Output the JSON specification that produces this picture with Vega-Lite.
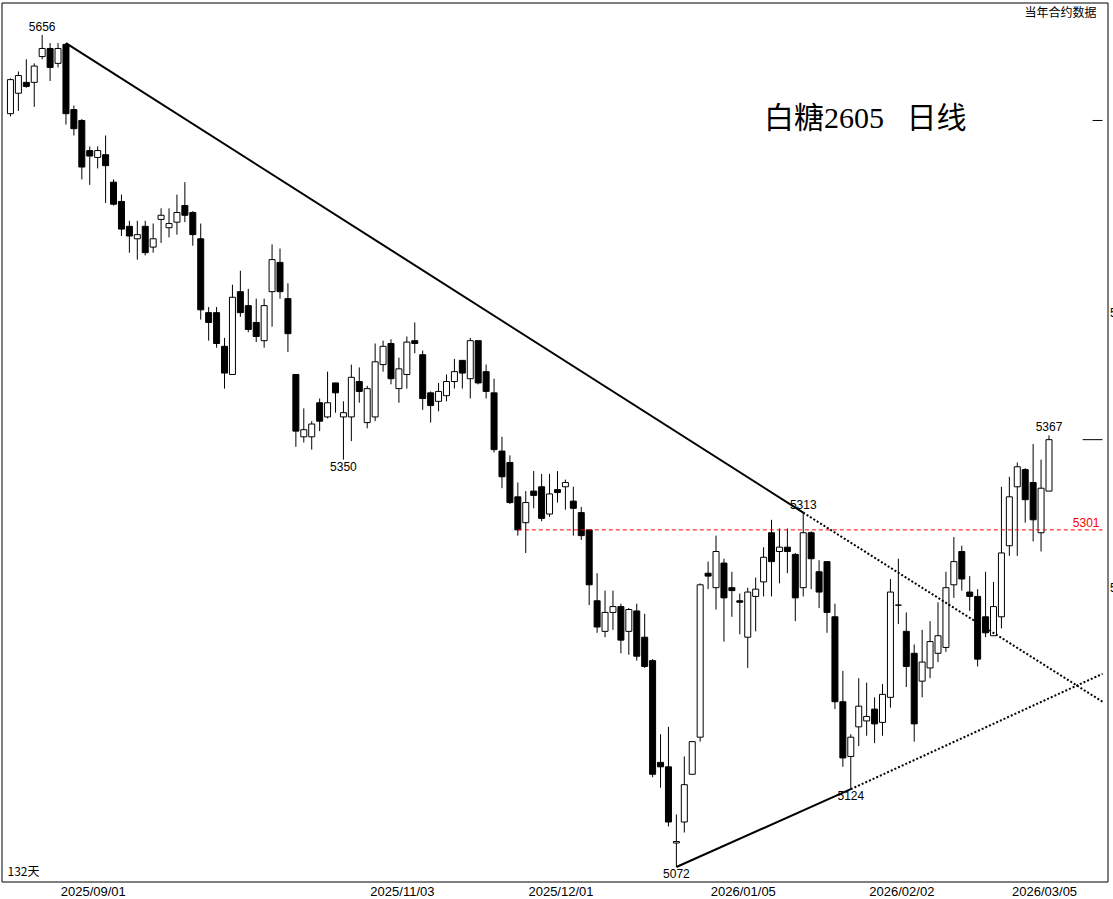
{
"$schema": "https://vega.github.io/schema/vega-lite/v6.json",
"width": 1106,
"height": 879,
"autosize": {"type": "none"},
"padding": {"left": 1.5, "top": 2.5, "right": 5.5, "bottom": 17.5},
"background": "#ffffff",
"config": {
"view": {"stroke": "#000000", "strokeWidth": 1},
"font": "Liberation Sans",
"axis": {"grid": false, "ticks": false, "domain": false, "labelColor": "#000000", "labelFont": "Liberation Sans", "labelFlush": false, "labelOverlap": false},
"axisX": {"labelFontSize": 13, "labelPadding": 4, "labelOffset": 3},
"axisY": {"labelFontSize": 12, "labelPadding": 2}
},
"datasets": {
"candles": [
{"day":0,"open":5598,"high":5624,"low":5596,"close":5623},
{"day":1,"open":5613,"high":5629,"low":5600,"close":5626},
{"day":2,"open":5621,"high":5638,"low":5617,"close":5618},
{"day":3,"open":5621,"high":5635,"low":5603,"close":5633},
{"day":4,"open":5640,"high":5656,"low":5638,"close":5646},
{"day":5,"open":5646,"high":5650,"low":5622,"close":5632},
{"day":6,"open":5635,"high":5650,"low":5632,"close":5646},
{"day":7,"open":5649,"high":5650,"low":5590,"close":5598},
{"day":8,"open":5601,"high":5604,"low":5582,"close":5587},
{"day":9,"open":5593,"high":5594,"low":5550,"close":5559},
{"day":10,"open":5571,"high":5574,"low":5546,"close":5567},
{"day":11,"open":5566,"high":5574,"low":5558,"close":5571},
{"day":12,"open":5568,"high":5582,"low":5533,"close":5560},
{"day":13,"open":5548,"high":5550,"low":5531,"close":5532},
{"day":14,"open":5534,"high":5539,"low":5509,"close":5514},
{"day":15,"open":5516,"high":5520,"low":5497,"close":5509},
{"day":16,"open":5507,"high":5520,"low":5492,"close":5510},
{"day":17,"open":5516,"high":5520,"low":5495,"close":5497},
{"day":18,"open":5501,"high":5518,"low":5497,"close":5507},
{"day":19,"open":5521,"high":5529,"low":5504,"close":5524},
{"day":20,"open":5515,"high":5529,"low":5508,"close":5518},
{"day":21,"open":5519,"high":5539,"low":5510,"close":5526},
{"day":22,"open":5531,"high":5548,"low":5519,"close":5524},
{"day":23,"open":5526,"high":5527,"low":5502,"close":5510},
{"day":24,"open":5507,"high":5518,"low":5449,"close":5456},
{"day":25,"open":5454,"high":5458,"low":5434,"close":5447},
{"day":26,"open":5454,"high":5458,"low":5429,"close":5432},
{"day":27,"open":5430,"high":5436,"low":5400,"close":5411},
{"day":28,"open":5410,"high":5474,"low":5410,"close":5465},
{"day":29,"open":5469,"high":5484,"low":5451,"close":5454},
{"day":30,"open":5459,"high":5471,"low":5440,"close":5442},
{"day":31,"open":5447,"high":5464,"low":5433,"close":5437},
{"day":32,"open":5434,"high":5464,"low":5429,"close":5459},
{"day":33,"open":5469,"high":5503,"low":5444,"close":5492},
{"day":34,"open":5490,"high":5500,"low":5464,"close":5469},
{"day":35,"open":5464,"high":5475,"low":5426,"close":5439},
{"day":36,"open":5410,"high":5410,"low":5359,"close":5370},
{"day":37,"open":5366,"high":5386,"low":5362,"close":5371},
{"day":38,"open":5366,"high":5377,"low":5357,"close":5375},
{"day":39,"open":5390,"high":5393,"low":5370,"close":5377},
{"day":40,"open":5380,"high":5412,"low":5379,"close":5390},
{"day":41,"open":5404,"high":5404,"low":5383,"close":5397},
{"day":42,"open":5380,"high":5391,"low":5350,"close":5383},
{"day":43,"open":5380,"high":5417,"low":5363,"close":5408},
{"day":44,"open":5405,"high":5415,"low":5390,"close":5398},
{"day":45,"open":5376,"high":5402,"low":5372,"close":5400},
{"day":46,"open":5380,"high":5432,"low":5377,"close":5419},
{"day":47,"open":5417,"high":5434,"low":5412,"close":5430},
{"day":48,"open":5432,"high":5435,"low":5403,"close":5407},
{"day":49,"open":5400,"high":5422,"low":5390,"close":5414},
{"day":50,"open":5410,"high":5437,"low":5400,"close":5433},
{"day":51,"open":5434,"high":5447,"low":5425,"close":5432},
{"day":52,"open":5424,"high":5427,"low":5385,"close":5393},
{"day":53,"open":5397,"high":5398,"low":5376,"close":5388},
{"day":54,"open":5391,"high":5404,"low":5384,"close":5398},
{"day":55,"open":5395,"high":5410,"low":5391,"close":5405},
{"day":56,"open":5405,"high":5421,"low":5400,"close":5412},
{"day":57,"open":5420,"high":5420,"low":5400,"close":5411},
{"day":58,"open":5407,"high":5436,"low":5393,"close":5434},
{"day":59,"open":5434,"high":5434,"low":5403,"close":5404},
{"day":60,"open":5412,"high":5417,"low":5393,"close":5398},
{"day":61,"open":5397,"high":5407,"low":5355,"close":5357},
{"day":62,"open":5356,"high":5366,"low":5330,"close":5338},
{"day":63,"open":5348,"high":5353,"low":5319,"close":5320},
{"day":64,"open":5324,"high":5334,"low":5297,"close":5301},
{"day":65,"open":5306,"high":5328,"low":5285,"close":5320},
{"day":66,"open":5328,"high":5342,"low":5316,"close":5325},
{"day":67,"open":5331,"high":5340,"low":5307,"close":5309},
{"day":68,"open":5312,"high":5340,"low":5310,"close":5326},
{"day":69,"open":5329,"high":5342,"low":5320,"close":5327},
{"day":70,"open":5331,"high":5336,"low":5315,"close":5334},
{"day":71,"open":5321,"high":5331,"low":5297,"close":5316},
{"day":72,"open":5313,"high":5317,"low":5294,"close":5297},
{"day":73,"open":5301,"high":5301,"low":5249,"close":5263},
{"day":74,"open":5252,"high":5271,"low":5230,"close":5234},
{"day":75,"open":5231,"high":5259,"low":5227,"close":5244},
{"day":76,"open":5244,"high":5259,"low":5232,"close":5248},
{"day":77,"open":5248,"high":5250,"low":5216,"close":5225},
{"day":78,"open":5231,"high":5247,"low":5215,"close":5246},
{"day":79,"open":5245,"high":5250,"low":5211,"close":5214},
{"day":80,"open":5227,"high":5243,"low":5206,"close":5207},
{"day":81,"open":5211,"high":5212,"low":5132,"close":5134},
{"day":82,"open":5142,"high":5161,"low":5125,"close":5139},
{"day":83,"open":5139,"high":5166,"low":5099,"close":5102},
{"day":84,"open":5088,"high":5107,"low":5072,"close":5089},
{"day":85,"open":5102,"high":5146,"low":5095,"close":5127},
{"day":86,"open":5134,"high":5156,"low":5134,"close":5156},
{"day":87,"open":5159,"high":5264,"low":5156,"close":5263},
{"day":88,"open":5271,"high":5279,"low":5260,"close":5269},
{"day":89,"open":5261,"high":5297,"low":5246,"close":5286},
{"day":90,"open":5278,"high":5281,"low":5224,"close":5254},
{"day":91,"open":5261,"high":5272,"low":5241,"close":5259},
{"day":92,"open":5252,"high":5257,"low":5229,"close":5251},
{"day":93,"open":5227,"high":5261,"low":5206,"close":5258},
{"day":94,"open":5255,"high":5268,"low":5231,"close":5260},
{"day":95,"open":5265,"high":5289,"low":5255,"close":5282},
{"day":96,"open":5299,"high":5308,"low":5255,"close":5279},
{"day":97,"open":5286,"high":5302,"low":5264,"close":5289},
{"day":98,"open":5289,"high":5302,"low":5271,"close":5286},
{"day":99,"open":5284,"high":5285,"low":5238,"close":5254},
{"day":100,"open":5261,"high":5313,"low":5255,"close":5299},
{"day":101,"open":5299,"high":5300,"low":5260,"close":5281},
{"day":102,"open":5272,"high":5280,"low":5247,"close":5258},
{"day":103,"open":5279,"high":5279,"low":5230,"close":5244},
{"day":104,"open":5241,"high":5250,"low":5178,"close":5183},
{"day":105,"open":5183,"high":5204,"low":5139,"close":5145},
{"day":106,"open":5146,"high":5161,"low":5124,"close":5159},
{"day":107,"open":5166,"high":5199,"low":5153,"close":5180},
{"day":108,"open":5170,"high":5196,"low":5160,"close":5173},
{"day":109,"open":5178,"high":5186,"low":5155,"close":5168},
{"day":110,"open":5169,"high":5195,"low":5160,"close":5188},
{"day":111,"open":5186,"high":5267,"low":5179,"close":5258},
{"day":112,"open":5249,"high":5281,"low":5236,"close":5249},
{"day":113,"open":5231,"high":5244,"low":5193,"close":5207},
{"day":114,"open":5216,"high":5222,"low":5156,"close":5168},
{"day":115,"open":5197,"high":5232,"low":5186,"close":5210},
{"day":116,"open":5206,"high":5238,"low":5199,"close":5224},
{"day":117,"open":5216,"high":5251,"low":5210,"close":5228},
{"day":118,"open":5220,"high":5272,"low":5217,"close":5261},
{"day":119,"open":5263,"high":5296,"low":5254,"close":5279},
{"day":120,"open":5286,"high":5290,"low":5259,"close":5267},
{"day":121,"open":5258,"high":5269,"low":5245,"close":5255},
{"day":122,"open":5255,"high":5260,"low":5207,"close":5212},
{"day":123,"open":5241,"high":5272,"low":5227,"close":5230},
{"day":124,"open":5228,"high":5265,"low":5228,"close":5248},
{"day":125,"open":5241,"high":5331,"low":5233,"close":5285},
{"day":126,"open":5290,"high":5338,"low":5283,"close":5324},
{"day":127,"open":5331,"high":5348,"low":5283,"close":5345},
{"day":128,"open":5343,"high":5344,"low":5306,"close":5322},
{"day":129,"open":5334,"high":5361,"low":5293,"close":5308},
{"day":130,"open":5299,"high":5350,"low":5286,"close":5330},
{"day":131,"open":5328,"high":5367,"low":5328,"close":5364}
],
"trend": [
{"line":"down","part":"drawn","day":7,"price":5650},
{"line":"down","part":"drawn","day":100,"price":5313},
{"line":"down","part":"projected","day":100,"price":5313},
{"line":"down","part":"projected","day":137.75,"price":5183},
{"line":"up","part":"drawn","day":84,"price":5072},
{"line":"up","part":"drawn","day":106,"price":5124},
{"line":"up","part":"projected","day":106,"price":5124},
{"line":"up","part":"projected","day":137.75,"price":5202}
],
"pivots": [
{"day":4,"price":5656,"side":"high"},
{"day":42,"price":5350,"side":"low"},
{"day":84,"price":5072,"side":"low"},
{"day":100,"price":5313,"side":"high"},
{"day":106,"price":5124,"side":"low"},
{"day":131,"price":5367,"side":"high"}
],
"level": [{"day":64,"price":5301}],
"marker": [{"price":5593}]
},
"layer": [
{
"data": {"name": "candles"},
"mark": {"type": "rule", "color": "#000000", "strokeWidth": 1, "clip": true},
"encoding": {
"x": {"field": "day", "type": "quantitative", "scale": {"domain": [-0.5, 137.75], "nice": false, "zero": false}, "axis": {"values": [10, 49, 69, 92, 112, 130], "labelExpr": "datum.value == 10 ? '2025/09/01' : datum.value == 49 ? '2025/11/03' : datum.value == 69 ? '2025/12/01' : datum.value == 92 ? '2026/01/05' : datum.value == 112 ? '2026/02/02' : '2026/03/05'", "title": null}},
"y": {"field": "low", "type": "quantitative", "scale": {"type": "log", "domain": [5062.4, 5680.1], "nice": false, "zero": false}, "axis": {"orient": "right", "values": [5454, 5261], "format": "d", "title": null}},
"y2": {"field": "high"}
}
},
{
"data": {"name": "candles"},
"mark": {"type": "bar", "width": 6, "stroke": "#000000", "strokeWidth": 1, "clip": true},
"encoding": {
"x": {"field": "day", "type": "quantitative", "scale": {"domain": [-0.5, 137.75], "nice": false, "zero": false}, "axis": {"values": [10, 49, 69, 92, 112, 130], "labelExpr": "datum.value == 10 ? '2025/09/01' : datum.value == 49 ? '2025/11/03' : datum.value == 69 ? '2025/12/01' : datum.value == 92 ? '2026/01/05' : datum.value == 112 ? '2026/02/02' : '2026/03/05'", "title": null}},
"y": {"field": "open", "type": "quantitative", "scale": {"type": "log", "domain": [5062.4, 5680.1], "nice": false, "zero": false}, "axis": {"orient": "right", "values": [5454, 5261], "format": "d", "title": null}},
"y2": {"field": "close"},
"fill": {"condition": {"test": "datum.close >= datum.open", "value": "#ffffff"}, "value": "#000000"}
}
},
{
"data": {"name": "trend"},
"transform": [{"filter": "datum.part == 'drawn'"}],
"mark": {"type": "line", "color": "#000000", "strokeWidth": 2, "clip": true},
"encoding": {
"x": {"field": "day", "type": "quantitative", "scale": {"domain": [-0.5, 137.75], "nice": false, "zero": false}, "axis": {"values": [10, 49, 69, 92, 112, 130], "labelExpr": "datum.value == 10 ? '2025/09/01' : datum.value == 49 ? '2025/11/03' : datum.value == 69 ? '2025/12/01' : datum.value == 92 ? '2026/01/05' : datum.value == 112 ? '2026/02/02' : '2026/03/05'", "title": null}},
"y": {"field": "price", "type": "quantitative", "scale": {"type": "log", "domain": [5062.4, 5680.1], "nice": false, "zero": false}, "axis": {"orient": "right", "values": [5454, 5261], "format": "d", "title": null}},
"detail": {"field": "line"}
}
},
{
"data": {"name": "trend"},
"transform": [{"filter": "datum.part == 'projected'"}],
"mark": {"type": "line", "color": "#000000", "strokeWidth": 2, "strokeDash": [2, 2], "clip": true},
"encoding": {
"x": {"field": "day", "type": "quantitative", "scale": {"domain": [-0.5, 137.75], "nice": false, "zero": false}, "axis": {"values": [10, 49, 69, 92, 112, 130], "labelExpr": "datum.value == 10 ? '2025/09/01' : datum.value == 49 ? '2025/11/03' : datum.value == 69 ? '2025/12/01' : datum.value == 92 ? '2026/01/05' : datum.value == 112 ? '2026/02/02' : '2026/03/05'", "title": null}},
"y": {"field": "price", "type": "quantitative", "scale": {"type": "log", "domain": [5062.4, 5680.1], "nice": false, "zero": false}, "axis": {"orient": "right", "values": [5454, 5261], "format": "d", "title": null}},
"detail": {"field": "line"}
}
},
{
"data": {"name": "level"},
"mark": {"type": "rule", "color": "#ff0000", "strokeWidth": 1, "strokeDash": [4, 3], "clip": true},
"encoding": {
"x": {"field": "day", "type": "quantitative", "scale": {"domain": [-0.5, 137.75], "nice": false, "zero": false}, "axis": {"values": [10, 49, 69, 92, 112, 130], "labelExpr": "datum.value == 10 ? '2025/09/01' : datum.value == 49 ? '2025/11/03' : datum.value == 69 ? '2025/12/01' : datum.value == 92 ? '2026/01/05' : datum.value == 112 ? '2026/02/02' : '2026/03/05'", "title": null}},
"x2": {"datum": 137.75},
"y": {"field": "price", "type": "quantitative", "scale": {"type": "log", "domain": [5062.4, 5680.1], "nice": false, "zero": false}, "axis": {"orient": "right", "values": [5454, 5261], "format": "d", "title": null}}
}
},
{
"data": {"name": "level"},
"mark": {"type": "text", "color": "#ff0000", "font": "Liberation Sans", "fontSize": 12, "align": "right", "baseline": "bottom", "dx": -3, "dy": 0},
"encoding": {
"x": {"datum": 137.75, "type": "quantitative", "scale": {"domain": [-0.5, 137.75], "nice": false, "zero": false}, "axis": {"values": [10, 49, 69, 92, 112, 130], "labelExpr": "datum.value == 10 ? '2025/09/01' : datum.value == 49 ? '2025/11/03' : datum.value == 69 ? '2025/12/01' : datum.value == 92 ? '2026/01/05' : datum.value == 112 ? '2026/02/02' : '2026/03/05'", "title": null}},
"y": {"field": "price", "type": "quantitative", "scale": {"type": "log", "domain": [5062.4, 5680.1], "nice": false, "zero": false}, "axis": {"orient": "right", "values": [5454, 5261], "format": "d", "title": null}},
"text": {"field": "price", "type": "quantitative", "format": "d"}
}
},
{
"data": {"name": "candles"},
"transform": [{"filter": "datum.day == 131"}],
"mark": {"type": "rule", "color": "#000000", "strokeWidth": 1},
"encoding": {
"x": {"datum": 135.25, "type": "quantitative", "scale": {"domain": [-0.5, 137.75], "nice": false, "zero": false}, "axis": {"values": [10, 49, 69, 92, 112, 130], "labelExpr": "datum.value == 10 ? '2025/09/01' : datum.value == 49 ? '2025/11/03' : datum.value == 69 ? '2025/12/01' : datum.value == 92 ? '2026/01/05' : datum.value == 112 ? '2026/02/02' : '2026/03/05'", "title": null}},
"x2": {"datum": 137.75},
"y": {"field": "close", "type": "quantitative", "scale": {"type": "log", "domain": [5062.4, 5680.1], "nice": false, "zero": false}, "axis": {"orient": "right", "values": [5454, 5261], "format": "d", "title": null}}
}
},
{
"data": {"name": "marker"},
"mark": {"type": "rule", "color": "#000000", "strokeWidth": 1},
"encoding": {
"x": {"datum": 136.5, "type": "quantitative", "scale": {"domain": [-0.5, 137.75], "nice": false, "zero": false}, "axis": {"values": [10, 49, 69, 92, 112, 130], "labelExpr": "datum.value == 10 ? '2025/09/01' : datum.value == 49 ? '2025/11/03' : datum.value == 69 ? '2025/12/01' : datum.value == 92 ? '2026/01/05' : datum.value == 112 ? '2026/02/02' : '2026/03/05'", "title": null}},
"x2": {"datum": 137.75},
"y": {"field": "price", "type": "quantitative", "scale": {"type": "log", "domain": [5062.4, 5680.1], "nice": false, "zero": false}, "axis": {"orient": "right", "values": [5454, 5261], "format": "d", "title": null}}
}
},
{
"data": {"name": "pivots"},
"transform": [{"filter": "datum.side == 'high'"}],
"mark": {"type": "text", "color": "#000000", "font": "Liberation Sans", "fontSize": 12, "align": "center", "baseline": "bottom", "dy": -1},
"encoding": {
"x": {"field": "day", "type": "quantitative", "scale": {"domain": [-0.5, 137.75], "nice": false, "zero": false}, "axis": {"values": [10, 49, 69, 92, 112, 130], "labelExpr": "datum.value == 10 ? '2025/09/01' : datum.value == 49 ? '2025/11/03' : datum.value == 69 ? '2025/12/01' : datum.value == 92 ? '2026/01/05' : datum.value == 112 ? '2026/02/02' : '2026/03/05'", "title": null}},
"y": {"field": "price", "type": "quantitative", "scale": {"type": "log", "domain": [5062.4, 5680.1], "nice": false, "zero": false}, "axis": {"orient": "right", "values": [5454, 5261], "format": "d", "title": null}},
"text": {"field": "price", "type": "quantitative", "format": "d"}
}
},
{
"data": {"name": "pivots"},
"transform": [{"filter": "datum.side == 'low'"}],
"mark": {"type": "text", "color": "#000000", "font": "Liberation Sans", "fontSize": 12, "align": "center", "baseline": "top", "dy": 2},
"encoding": {
"x": {"field": "day", "type": "quantitative", "scale": {"domain": [-0.5, 137.75], "nice": false, "zero": false}, "axis": {"values": [10, 49, 69, 92, 112, 130], "labelExpr": "datum.value == 10 ? '2025/09/01' : datum.value == 49 ? '2025/11/03' : datum.value == 69 ? '2025/12/01' : datum.value == 92 ? '2026/01/05' : datum.value == 112 ? '2026/02/02' : '2026/03/05'", "title": null}},
"y": {"field": "price", "type": "quantitative", "scale": {"type": "log", "domain": [5062.4, 5680.1], "nice": false, "zero": false}, "axis": {"orient": "right", "values": [5454, 5261], "format": "d", "title": null}},
"text": {"field": "price", "type": "quantitative", "format": "d"}
}
},
{
"data": {"values": [{"label": "白糖2605\u2002 日线"}]},
"mark": {"type": "text", "color": "#000000", "font": "Liberation Serif, Noto Sans CJK SC", "fontSize": 30, "align": "center", "baseline": "middle", "dx": 2},
"encoding": {
"x": {"datum": 107.56, "type": "quantitative", "scale": {"domain": [-0.5, 137.75], "nice": false, "zero": false}, "axis": {"values": [10, 49, 69, 92, 112, 130], "labelExpr": "datum.value == 10 ? '2025/09/01' : datum.value == 49 ? '2025/11/03' : datum.value == 69 ? '2025/12/01' : datum.value == 92 ? '2026/01/05' : datum.value == 112 ? '2026/02/02' : '2026/03/05'", "title": null}},
"y": {"datum": 5594, "type": "quantitative", "scale": {"type": "log", "domain": [5062.4, 5680.1], "nice": false, "zero": false}, "axis": {"orient": "right", "values": [5454, 5261], "format": "d", "title": null}},
"text": {"field": "label"}
}
},
{
"data": {"values": [{"label": "当年合约数据"}]},
"mark": {"type": "text", "color": "#000000", "font": "Noto Sans CJK SC", "fontSize": 12, "align": "right", "baseline": "middle", "dx": -6, "dy": 10},
"encoding": {
"x": {"datum": 137.75, "type": "quantitative", "scale": {"domain": [-0.5, 137.75], "nice": false, "zero": false}, "axis": {"values": [10, 49, 69, 92, 112, 130], "labelExpr": "datum.value == 10 ? '2025/09/01' : datum.value == 49 ? '2025/11/03' : datum.value == 69 ? '2025/12/01' : datum.value == 92 ? '2026/01/05' : datum.value == 112 ? '2026/02/02' : '2026/03/05'", "title": null}},
"y": {"datum": 5680.1, "type": "quantitative", "scale": {"type": "log", "domain": [5062.4, 5680.1], "nice": false, "zero": false}, "axis": {"orient": "right", "values": [5454, 5261], "format": "d", "title": null}},
"text": {"field": "label"}
}
},
{
"data": {"values": [{"label": "132天"}]},
"mark": {"type": "text", "color": "#000000", "font": "Noto Sans CJK SC", "fontSize": 12, "align": "left", "baseline": "middle", "dx": 1, "dy": -9.5},
"encoding": {
"x": {"datum": -0.5, "type": "quantitative", "scale": {"domain": [-0.5, 137.75], "nice": false, "zero": false}, "axis": {"values": [10, 49, 69, 92, 112, 130], "labelExpr": "datum.value == 10 ? '2025/09/01' : datum.value == 49 ? '2025/11/03' : datum.value == 69 ? '2025/12/01' : datum.value == 92 ? '2026/01/05' : datum.value == 112 ? '2026/02/02' : '2026/03/05'", "title": null}},
"y": {"datum": 5062.4, "type": "quantitative", "scale": {"type": "log", "domain": [5062.4, 5680.1], "nice": false, "zero": false}, "axis": {"orient": "right", "values": [5454, 5261], "format": "d", "title": null}},
"text": {"field": "label"}
}
}
]
}
